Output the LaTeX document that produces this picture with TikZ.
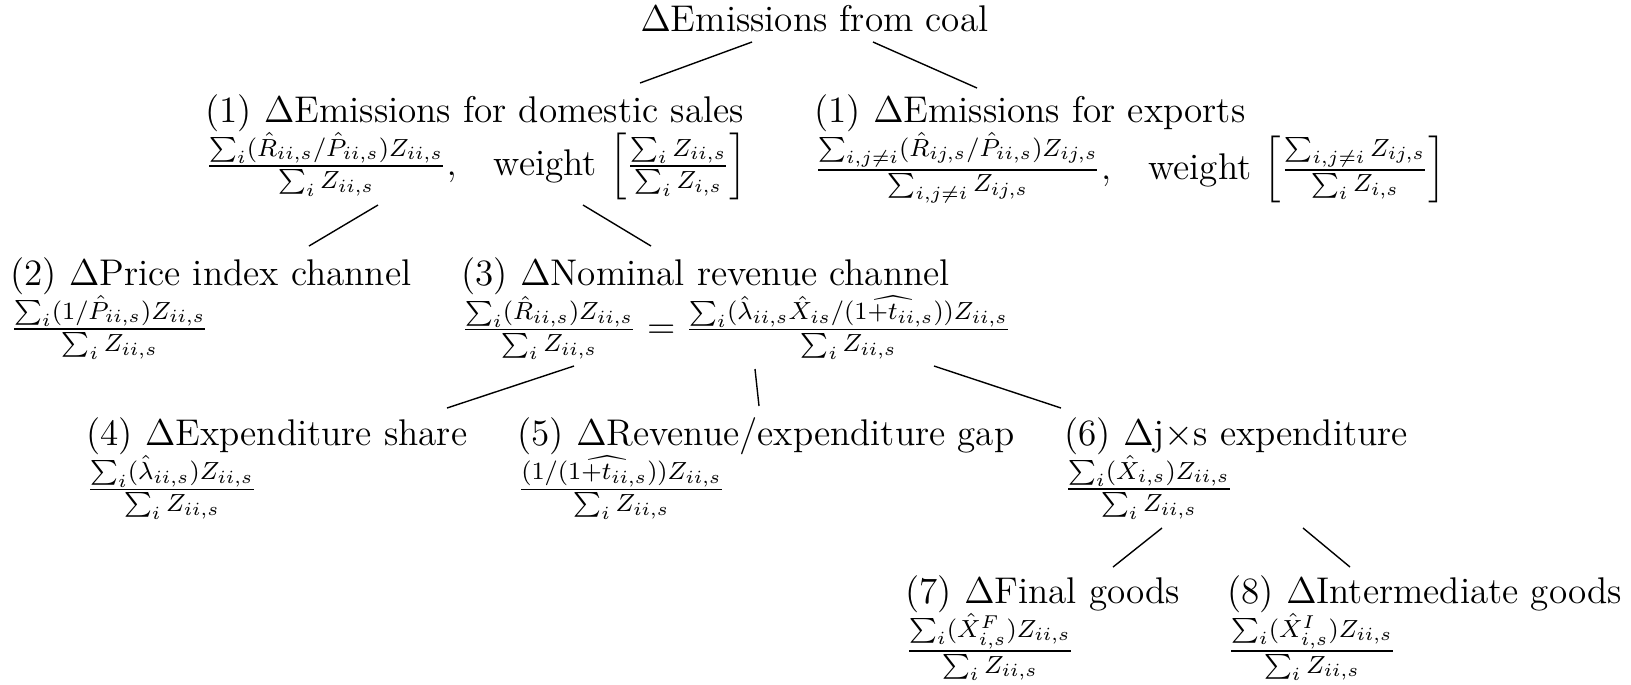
\documentclass[12pt,tikz,border=0pt]{standalone}
\usepackage{amsmath}
\usepackage{tikz}
\usetikzlibrary{positioning, calc}
\tikzset{
  channel/.style={anchor=north west, align=left, inner sep=0pt},
  link/.style={draw, line width=0.45pt}
}

\begin{document}
\begin{tikzpicture}[x=0.323pt, y=-0.323pt]
  \useasboundingbox (0,0) rectangle (1631,684);

  \node[channel] (coal) at (640,5) {$\Delta$Emissions from coal};

  \node[channel] (domestic) at (205,94) {(1) $\Delta$Emissions for domestic sales\\[-0.7pt]
    $\frac{\sum_i(\hat{R}_{ii,s}/\hat{P}_{ii,s})Z_{ii,s}}{\sum_i Z_{ii,s}},\quad$weight $\left[\frac{\sum_i Z_{ii,s}}{\sum_i Z_{i,s}}\right]$};
  \node[channel] (exports) at (814,94) {(1) $\Delta$Emissions for exports\\[-0.7pt]
    $\frac{\sum_{i,j\neq i}(\hat{R}_{ij,s}/\hat{P}_{ii,s})Z_{ij,s}}{\sum_{i,j\neq i} Z_{ij,s}},\quad$weight $\left[\frac{\sum_{i,j\neq i} Z_{ij,s}}{\sum_i Z_{i,s}}\right]$};

  \node[channel] (price) at (10,257) {(2) $\Delta$Price index channel\\[-0.7pt]
    $\frac{\sum_i(1/\hat{P}_{ii,s})Z_{ii,s}}{\sum_i Z_{ii,s}}$};
  \node[channel] (nominal) at (461,257) {(3) $\Delta$Nominal revenue channel\\[-0.7pt]
    $\frac{\sum_i(\hat{R}_{ii,s})Z_{ii,s}}{\sum_i Z_{ii,s}} = \frac{\sum_i(\hat{\lambda}_{ii,s}\hat{X}_{is}/(\widehat{1+t_{ii,s}}))Z_{ii,s}}{\sum_i Z_{ii,s}}$};

  \node[channel] (share) at (86,417) {(4) $\Delta$Expenditure share\\[-0.7pt]
    $\frac{\sum_i(\hat{\lambda}_{ii,s})Z_{ii,s}}{\sum_i Z_{ii,s}}$};
  \node[channel] (gap) at (517,417) {(5) $\Delta$Revenue/expenditure gap\\[-0.7pt]
    $\frac{(1/(\widehat{1+t_{ii,s}}))Z_{ii,s}}{\sum_i Z_{ii,s}}$};
  \node[channel] (expend) at (1064,417) {(6) $\Delta$j$\times$s expenditure\\[-0.7pt]
    $\frac{\sum_i(\hat{X}_{i,s})Z_{ii,s}}{\sum_i Z_{ii,s}}$};

  \node[channel] (final) at (905,575) {(7) $\Delta$Final goods\\[-0.7pt]
    $\frac{\sum_i(\hat{X}^F_{i,s})Z_{ii,s}}{\sum_i Z_{ii,s}}$};
  \node[channel] (inter) at (1227,575) {(8) $\Delta$Intermediate goods\\[-0.7pt]
    $\frac{\sum_i(\hat{X}^I_{i,s})Z_{ii,s}}{\sum_i Z_{ii,s}}$};

  \path[link] ([shift={(112,37)}]coal.north west) -- ([shift={(435,-11)}]domestic.north west);
  \path[link] ([shift={(233,37)}]coal.north west) -- ([shift={(163,-6)}]exports.north west);
  \path[link] ([shift={(173,111)}]domestic.north west) -- ([shift={(299,-11)}]price.north west);
  \path[link] ([shift={(378,111)}]domestic.north west) -- ([shift={(190,-11)}]nominal.north west);
  \path[link] ([shift={(113,109)}]nominal.north west) -- ([shift={(361,-9)}]share.north west);
  \path[link] ([shift={(294,112)}]nominal.north west) -- ([shift={(242,-11)}]gap.north west);
  \path[link] ([shift={(473,109)}]nominal.north west) -- ([shift={(-3,-9)}]expend.north west);
  \path[link] ([shift={(98,111)}]expend.north west) -- ([shift={(208,-8)}]final.north west);
  \path[link] ([shift={(239,111)}]expend.north west) -- ([shift={(123,-8)}]inter.north west);
\end{tikzpicture}
\end{document}
